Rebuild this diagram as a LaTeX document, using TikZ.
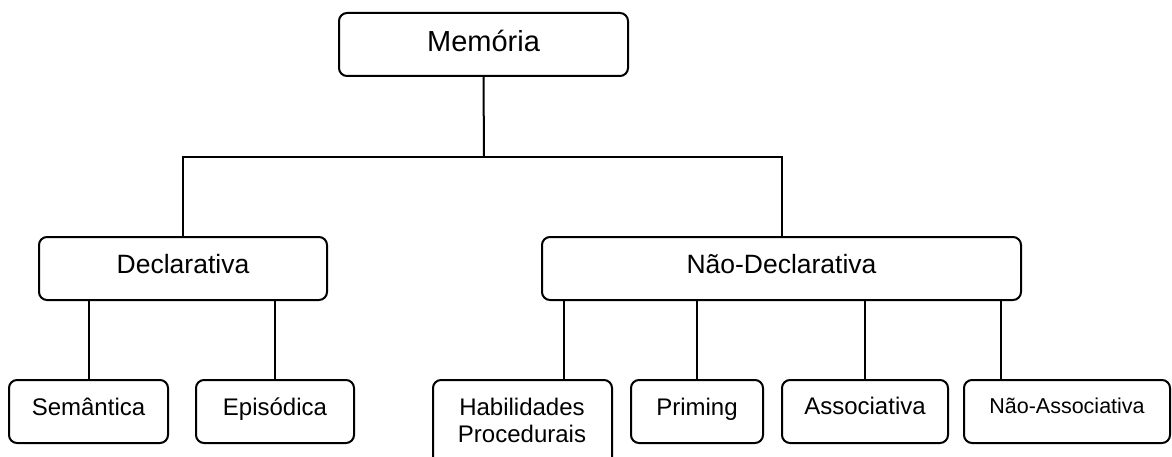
\documentclass[tikz,border=0pt]{standalone}
\usepackage{fontspec}
\setmainfont{Liberation Sans}
\usetikzlibrary{calc}
\begin{document}
\begin{tikzpicture}[x=1pt,y=-1pt,
  box/.style={draw, line width=2pt, rounded corners=8pt, inner sep=0pt},
  link/.style={line width=2pt},
  lbl/.style={anchor=base, inner sep=0pt, align=center, font=\fontsize{24}{27}\selectfont},
  bigl/.style={lbl, font=\fontsize{26.5}{30}\selectfont},
  topl/.style={lbl, font=\fontsize{29}{33}\selectfont},
  smalll/.style={lbl, font=\fontsize{21.5}{25}\selectfont}]
\useasboundingbox (0,0) rectangle (1172,457);
\clip (0,0) rectangle (1172,457);

% boxes
\node[box, minimum width=289, minimum height=63] (mem)    at (483.5,44.5) {};
\node[box, minimum width=288, minimum height=63] (decl)   at (183,268.5) {};
\node[box, minimum width=479, minimum height=63] (ndecl)  at (781.5,268.5) {};
\node[box, minimum width=159, minimum height=63] (sem)    at (88.5,411.5) {};
\node[box, minimum width=158, minimum height=63] (epi)    at (275,411.5) {};
\node[box, minimum width=179, minimum height=90] (hab)    at (522.5,425) {};
\node[box, minimum width=132, minimum height=63] (prim)   at (697,411.5) {};
\node[box, minimum width=166, minimum height=63] (assoc)  at (865,411.5) {};
\node[box, minimum width=206, minimum height=63] (nassoc) at (1067,411.5) {};

% labels (base anchor sits on the last line's baseline)
\node[topl]   (memT)    at (483.5,52) {Memória};
\node[bigl]   (declT)   at (183,273) {Declarativa};
\node[bigl]   (ndeclT)  at (781.5,273) {Não-Declarativa};
\node[lbl]    (semT)    at (88.5,415) {Semântica};
\node[lbl]    (epiT)    at (275,415) {Episódica};
\node[lbl]    (habT)    at (522,442) {Habilidades\\Procedurais};
\node[lbl]    (primT)   at (697,415) {Priming};
\node[lbl]    (assocT)  at (865,414) {Associativa};
\node[smalll] (nassocT) at (1067,413) {Não-Associativa};

% tree connectors
\coordinate (j) at (484,157);
\draw[link] (mem.south) -- (j);
\draw[link] (decl.north) -- (decl.north |- j) -- (ndecl.north |- j) -- (ndecl.north);

\draw[link] (sem.north)  -- (sem.north |- decl.south);
\draw[link] (epi.north)  -- (epi.north |- decl.south);

\coordinate (habtop) at ($(hab.north)+(41.5,0)$);
\coordinate (nassoctop) at ($(nassoc.north)+(-66,0)$);
\draw[link] (habtop)     -- (habtop |- ndecl.south);
\draw[link] (prim.north) -- (prim.north |- ndecl.south);
\draw[link] (assoc.north) -- (assoc.north |- ndecl.south);
\draw[link] (nassoctop)  -- (nassoctop |- ndecl.south);
\end{tikzpicture}
\end{document}
